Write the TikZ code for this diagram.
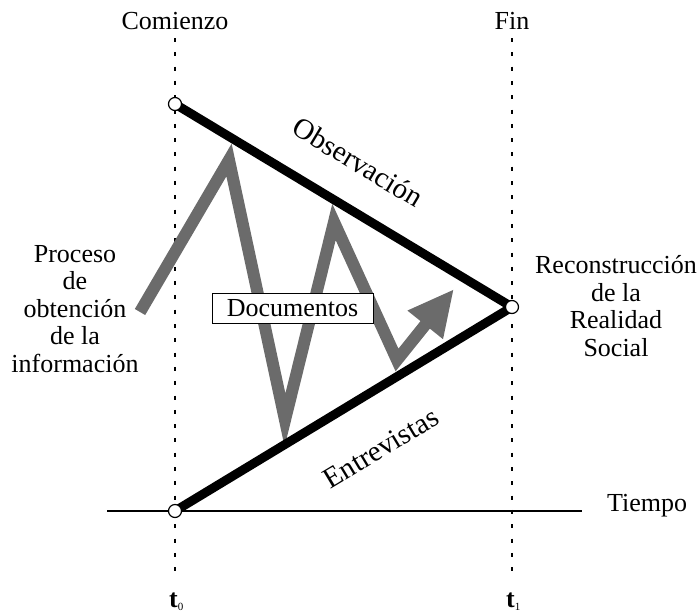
\documentclass[tikz,border=0pt]{standalone}
\usepackage{fontspec}
\setmainfont{Liberation Serif}
\usetikzlibrary{arrows.meta}
\begin{document}
\begin{tikzpicture}[x=1pt,y=-1pt,
  lbl/.style={font=\fontsize{26}{27.5}\selectfont, inner sep=0pt},
  slant/.style={font=\fontsize{29}{30}\selectfont, inner sep=0pt},
  dotline/.style={line width=2.5pt, dash pattern=on 4pt off 10.3pt},
  heavy/.style={line width=9pt, line join=bevel},
  pt/.style={circle, draw, fill=white, line width=1.2pt, minimum size=13pt, inner sep=0pt},
  zig/.style={draw=black!58, line width=12pt, line join=miter},
  docbox/.style={draw, fill=white, line width=1pt, minimum width=161pt, minimum height=30pt, inner sep=0pt, font=\fontsize{26}{27.5}\selectfont}
]
\useasboundingbox (0,0) rectangle (699,614);
% coordinates
\coordinate (lt) at (175,38);
\coordinate (lb) at (175,578);
\coordinate (rt) at (512,38);
\coordinate (rb) at (512,578);
\coordinate (h1) at (107,511);
\coordinate (h2) at (582,511);
\coordinate (pA) at (175,104);
\coordinate (pB) at (512,307);
\coordinate (pC) at (175,511);
\coordinate (z0) at (140,312);
\coordinate (z1) at (229,160);
\coordinate (z2) at (285,420);
\coordinate (z3) at (334,222);
\coordinate (z4) at (397,360);
\coordinate (z5) at (454,289);
% dotted verticals
\draw[dotline] (lt) -- (lb);
\draw[dotline] (rt) -- (rb);
% time axis
\draw[line width=2pt] (h1) -- (h2);
% zigzag
\draw[zig, -{Triangle[length=46pt,width=42pt]}] (z0) -- (z1) -- (z2) -- (z3) -- (z4) -- (z5);
% triangle sides
\draw[heavy] (pA) -- (pB) -- (pC);
% points
\node[pt] (cA) at (pA) {};
\node[pt] (cB) at (pB) {};
\node[pt] (cC) at (pC) {};
% box
\node[docbox] (doc) at (292.5,308) {Documentos};
% labels
\node[lbl, anchor=base] (com) at (175,29) {Comienzo};
\node[lbl, anchor=base] (fin) at (512,29) {Fin};
\node[lbl, anchor=base west] (tie) at (607,511) {Tiempo};
\node[lbl, anchor=base west] (t0) at (169,607) {\textbf{t}\raisebox{-3pt}{\fontsize{11}{11}\selectfont 0}};
\node[lbl, anchor=base west] (t1) at (506,607) {\textbf{t}\raisebox{-3pt}{\fontsize{11}{11}\selectfont 1}};
\node[slant, rotate=-31] (obs) at (358,162) {Observación};
\node[slant, rotate=31] (ent) at (381,448) {Entrevistas};
\node[lbl, align=center] (proc) at (75,309) {Proceso\\de\\obtención\\de la\\información};
\node[lbl, align=center] (rec) at (616,306) {Reconstrucción\\de la\\Realidad\\Social};
\end{tikzpicture}
\end{document}
